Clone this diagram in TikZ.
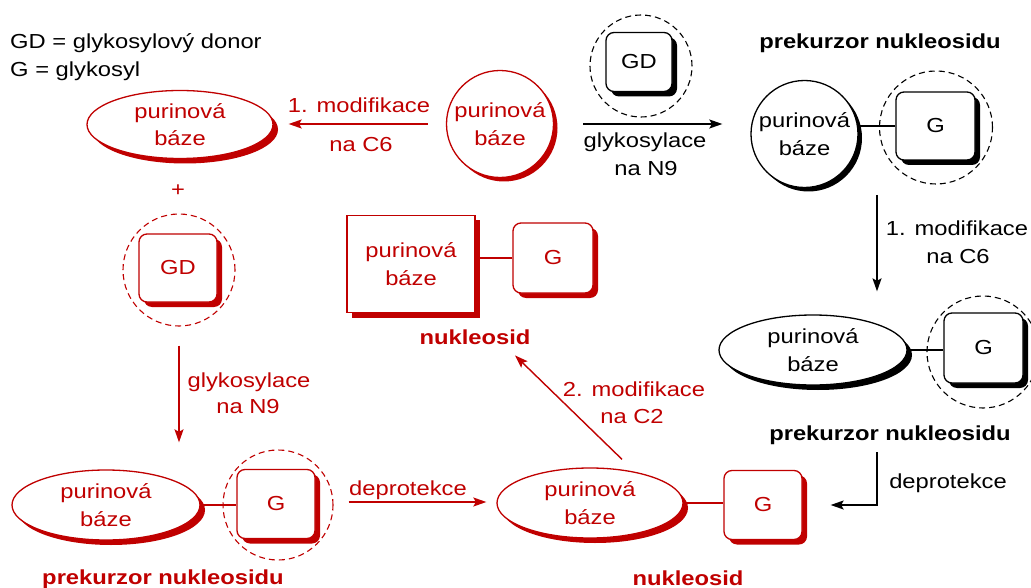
\documentclass[tikz,border=0pt]{standalone}
\usepackage{fontspec}
\setmainfont{Liberation Sans}[FakeStretch=1.17]
\usetikzlibrary{shapes.geometric,shadows,arrows.meta,calc}
\definecolor{dred}{RGB}{192,0,0}
\begin{document}
\begin{tikzpicture}[x=1pt,y=-1pt,
  every node/.style={font=\fontsize{20.3}{27.5}\selectfont, inner sep=0pt},
  lbl/.style={anchor=base},
  boldlbl/.style={anchor=base, font=\fontsize{20.3}{27.5}\selectfont\bfseries},
  rshape/.style={draw=dred, text=dred, fill=white, line width=1.3pt,
    general shadow={fill=dred, shadow xshift=5pt, shadow yshift=-5pt}},
  kshape/.style={draw=black, text=black, fill=white, line width=1.3pt,
    general shadow={fill=black, shadow xshift=5pt, shadow yshift=-5pt}},
  thinshadow/.style={general shadow={fill=#1, shadow xshift=4pt, shadow yshift=-4pt}},
  ellbox/.style={ellipse, align=center, minimum width=186pt, minimum height=68pt},
  circbox/.style={circle, align=center, minimum size=107pt},
  gbox/.style={rectangle, rounded corners=8pt, minimum width=78pt, minimum height=68pt},
  ring/.style={circle, draw, dash pattern=on 6pt off 4pt, line width=1.1pt},
  link/.style={line width=1.3pt},
  arr/.style={line width=1.4pt, -{Stealth[length=13pt, width=9pt, inset=2.5pt]}},
]
\fill[white] (0,0) rectangle (1031,588);
\useasboundingbox (0,0) rectangle (1031,588);

% legend
\node[lbl, anchor=base west] (leg1) at (10,49) {GD = glykosylový donor};
\node[lbl, anchor=base west] (leg2) at (10,77) {G = glykosyl};

% ---- red route (left) ----
\node[draw=dred, text=dred, fill=white, line width=1.3pt, thinshadow=dred, circbox] (bT) at (500,124) {purinová\\báze};
\node[rshape, ellbox] (eTL) at (180,124.5) {purinová\\báze};
\draw[arr, dred, shorten <=18pt, shorten >=15pt] (bT.west) -- (bT.west -| eTL.east);
\node[lbl, text=dred] (m1) at (359,113) {1. modifikace};
\node[lbl, text=dred] (m1b) at (361,152) {na C6};

\node[lbl, text=dred] (plus) at (178,197) {+};
\node[ring, draw=dred, minimum size=112pt] (dGD) at (179,270) {};
\node[rshape, gbox] (gGD) at (178,268) {GD};

\node[ring, draw=dred, minimum size=110pt] (dBL) at (278,505) {};
\node[rshape, ellbox, minimum width=188pt, minimum height=70pt] (eBL) at (106,505) {purinová\\báze};
\node[rshape, gbox, minimum height=69pt] (gBL) at (276,504) {G};
\draw[link, dred] (eBL.east) -- (eBL.east -| gBL.west);
\node[boldlbl, text=dred] (pBL) at (163,584) {prekurzor nukleosidu};

\draw[arr, dred, shorten <=19pt, shorten >=27pt] (dGD.south) -- (dGD.south |- eBL.north);
\node[lbl, text=dred] (gl1) at (249,387) {glykosylace};
\node[lbl, text=dred] (gl1b) at (248,413) {na N9};

\node[rshape, ellbox, minimum height=70pt] (eB) at (590,503) {purinová\\báze};
\node[rshape, gbox, minimum height=69pt] (gB) at (763,505) {G};
\draw[link, dred] (eB.east) -- (eB.east -| gB.west);
\node[boldlbl, text=dred] (nB) at (688,585) {nukleosid};

\draw[arr, dred, shorten <=15pt, shorten >=10pt] ([yshift=3pt]dBL.east) -- ([yshift=3pt]dBL.east -| eB.west);
\node[lbl, text=dred] (dp1) at (408,495) {deprotekce};

\node[rshape, rectangle, align=center, minimum width=128pt, minimum height=97pt] (sq) at (411,264) {purinová\\báze};
\node[rshape, gbox, minimum width=80pt, minimum height=70pt] (gM) at (553,258) {G};
\draw[link, dred] (gM.west) -- (gM.west -| sq.east);
\node[boldlbl, text=dred] (nM) at (475,344) {nukleosid};

\draw[arr, dred] ([shift={(32,-8)}]eB.north) -- ([shift={(40,11)}]nM.south);
\node[lbl, text=dred] (m2) at (634,396) {2. modifikace};
\node[lbl, text=dred] (m2b) at (632,423) {na C2};

% ---- black route (right) ----
\node[ring, draw=black, minimum size=102pt] (dTop) at (641,66) {};
\node[kshape, gbox, minimum width=66pt, minimum height=59pt] (gTop) at (639,62) {GD};

\node[draw=black, fill=white, line width=1.3pt, thinshadow=black, circbox] (bTR) at (804.5,134) {purinová\\báze};
\node[ring, draw=black, minimum size=113pt] (dTR) at (936,127.5) {};
\node[kshape, gbox, minimum width=79pt] (gTR) at (935.5,126) {G};
\draw[link] (gTR.west) -- coordinate[midway] (jTR) (gTR.west -| bTR.east);
\node[boldlbl] (pTR) at (880,49) {prekurzor nukleosidu};

\draw[arr, shorten <=29pt, shorten >=28pt] (bT.east) -- (bT.east -| bTR.west);
\node[lbl] (gl2) at (645,148) {glykosylace};
\node[lbl] (gl2b) at (646,176) {na N9};

\node[ring, draw=black, minimum size=112pt] (dR) at (983,352) {};
\node[kshape, ellbox, minimum width=188pt, minimum height=70pt] (eR) at (813,350) {purinová\\báze};
\node[kshape, gbox, minimum width=79pt, minimum height=70pt] (gR) at (983.5,348) {G};
\draw[link] (eR.east) -- (eR.east -| gR.west);
\node[boldlbl] (pR) at (890,440) {prekurzor nukleosidu};

\draw[arr, shorten <=69pt, shorten >=23pt] (jTR) -- (jTR |- eR.north);
\node[lbl] (m3) at (957,236) {1. modifikace};
\node[lbl] (m3b) at (958,263) {na C6};

\draw[arr, shorten <=8pt, shorten >=28pt] (pR.south -| jTR) |- (gB.east);
\node[lbl] (dp2) at (948,488) {deprotekce};
\end{tikzpicture}
\end{document}
